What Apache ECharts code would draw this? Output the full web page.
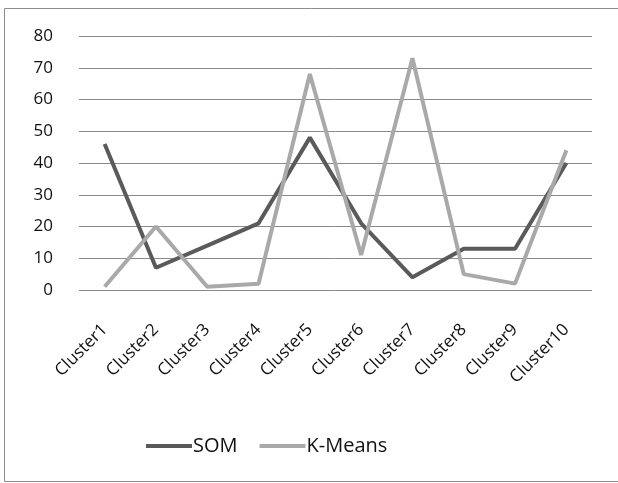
<!DOCTYPE html>
<html>
<head>
<meta charset="utf-8">
<script src="https://cdn.jsdelivr.net/npm/echarts@6/dist/echarts.min.js"></script>
<style>
html,body{margin:0;padding:0;background:#fff;}
#chart{width:618px;height:483px;}
</style>
</head>
<body>
<div id="chart"></div>
<script>
const categories = ['Cluster1','Cluster2','Cluster3','Cluster4','Cluster5','Cluster6','Cluster7','Cluster8','Cluster9','Cluster10'];
const somValues = [46, 7, 14, 21, 48, 21, 4, 13, 13, 40];
const kmeansValues = [1, 20, 1, 2, 68, 11, 73, 5, 2, 44];
const yTicks = [0, 10, 20, 30, 40, 50, 60, 70, 80];

const font = '"Open Sans", "Liberation Sans", sans-serif';
const chart = echarts.init(document.getElementById('chart'), null, {renderer: 'canvas'});
chart.setOption({
  animation: false,
  backgroundColor: '#ffffff',
  graphic: [{
    type: 'rect',
    shape: {x: 4.5, y: 8.5, width: 640, height: 473},
    style: {fill: 'none', stroke: '#8c8c8c', lineWidth: 1},
    silent: true, z: -1
  }],
  grid: {left: 79, right: 26, top: 36, bottom: 193, containLabel: false},
  legend: {
    top: 431,
    left: 141,
    itemWidth: 46,
    itemHeight: 4,
    itemGap: 22,
    icon: 'rect',
    textStyle: {fontFamily: font, fontSize: 20, color: '#111', padding: [0,0,0,-4]},
    data: ['SOM', 'K-Means']
  },
  xAxis: {
    type: 'category',
    data: categories,
    boundaryGap: true,
    axisLine: {show: false},
    axisTick: {show: false},
    axisLabel: {rotate: 45, margin: 37, fontFamily: font, fontSize: 17, color: '#111', interval: 0}
  },
  yAxis: {
    type: 'value',
    min: yTicks[0],
    max: yTicks[yTicks.length - 1],
    interval: 10,
    axisLine: {show: false},
    axisTick: {show: false},
    axisLabel: {margin: 26, fontFamily: font, fontSize: 17, color: '#111'},
    splitLine: {lineStyle: {color: '#8a8a8a', width: 1}}
  },
  series: [
    {
      name: 'SOM', type: 'line', data: somValues,
      symbol: 'none', lineStyle: {color: '#5a5a5a', width: 4}, itemStyle: {color: '#5a5a5a'}
    },
    {
      name: 'K-Means', type: 'line', data: kmeansValues,
      symbol: 'none', lineStyle: {color: '#a9a9a9', width: 4}, itemStyle: {color: '#a9a9a9'}
    }
  ]
});
</script>
</body>
</html>
